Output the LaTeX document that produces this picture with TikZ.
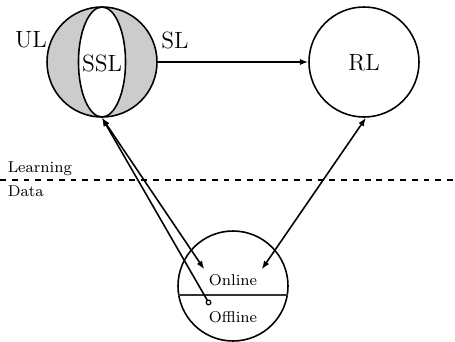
\documentclass[tikz,border=0pt]{standalone}
\usetikzlibrary{arrows.meta,shapes.geometric}
\begin{document}
\begin{tikzpicture}[x=0.51pt,y=-0.51pt,
  every path/.style={line width=0.8pt},
  bigcirc/.style={circle,draw,line width=0.8pt,inner sep=0pt,minimum size=56.1pt},
  biglabel/.style={font=\large,inner sep=0pt},
  smalllabel/.style={font=\footnotesize,inner sep=2pt},
  arr/.style={-{Latex[length=4.3pt,width=3.2pt]},line width=0.8pt},
  darr/.style={{Latex[length=4.3pt,width=3.2pt]}-{Latex[length=4.3pt,width=3.2pt]},line width=0.8pt}]
\useasboundingbox (0,0) rectangle (455,341);
% SSL circle
\node[bigcirc,fill=black!20] (outer) at (102,62) {};
\node[ellipse,draw,fill=white,line width=0.8pt,inner sep=0pt,minimum width=24pt,minimum height=56.1pt] (ssl) at (102,62) {};
\node[biglabel] (ssltext) at (102,63) {SSL};
\node[biglabel] (ul) at (31,40) {UL};
\node[biglabel] (sl) at (175,40) {SL};
% RL circle
\node[bigcirc] (rl) at (364,62) {};
\node[biglabel] (rltext) at (364,63) {RL};
% data circle
\node[bigcirc] (bc) at (233,286) {};
\draw[line width=1.1pt,black!80] (bc.189.4) -- (bc.-9.4);
\node[smalllabel] (on) at (233,279.7) {Online};
\node[smalllabel] (off) at (233,316.7) {Offline};
\coordinate (dot) at (210,305);
% separator
\coordinate (dl) at (0,180);
\coordinate (dr) at (455,180);
\draw[dashed] (dl) -- (dr);
\node[font=\footnotesize,inner sep=0pt,anchor=base west] (learn) at (7,172.5) {Learning};
\node[font=\footnotesize,inner sep=0pt,anchor=base west] (data) at (7,196) {Data};
% connectors
\draw[arr] (outer.east) -- (rl.west);
\draw[darr] (outer.south) -- (on.north west);
\draw[{Circle[open,length=3pt,width=3pt,line width=0.6pt]}-{Latex[length=4.3pt,width=3.2pt]}] (dot) -- (outer.south);
\draw[darr] (rl.272) -- (on.north east);
\end{tikzpicture}
\end{document}
